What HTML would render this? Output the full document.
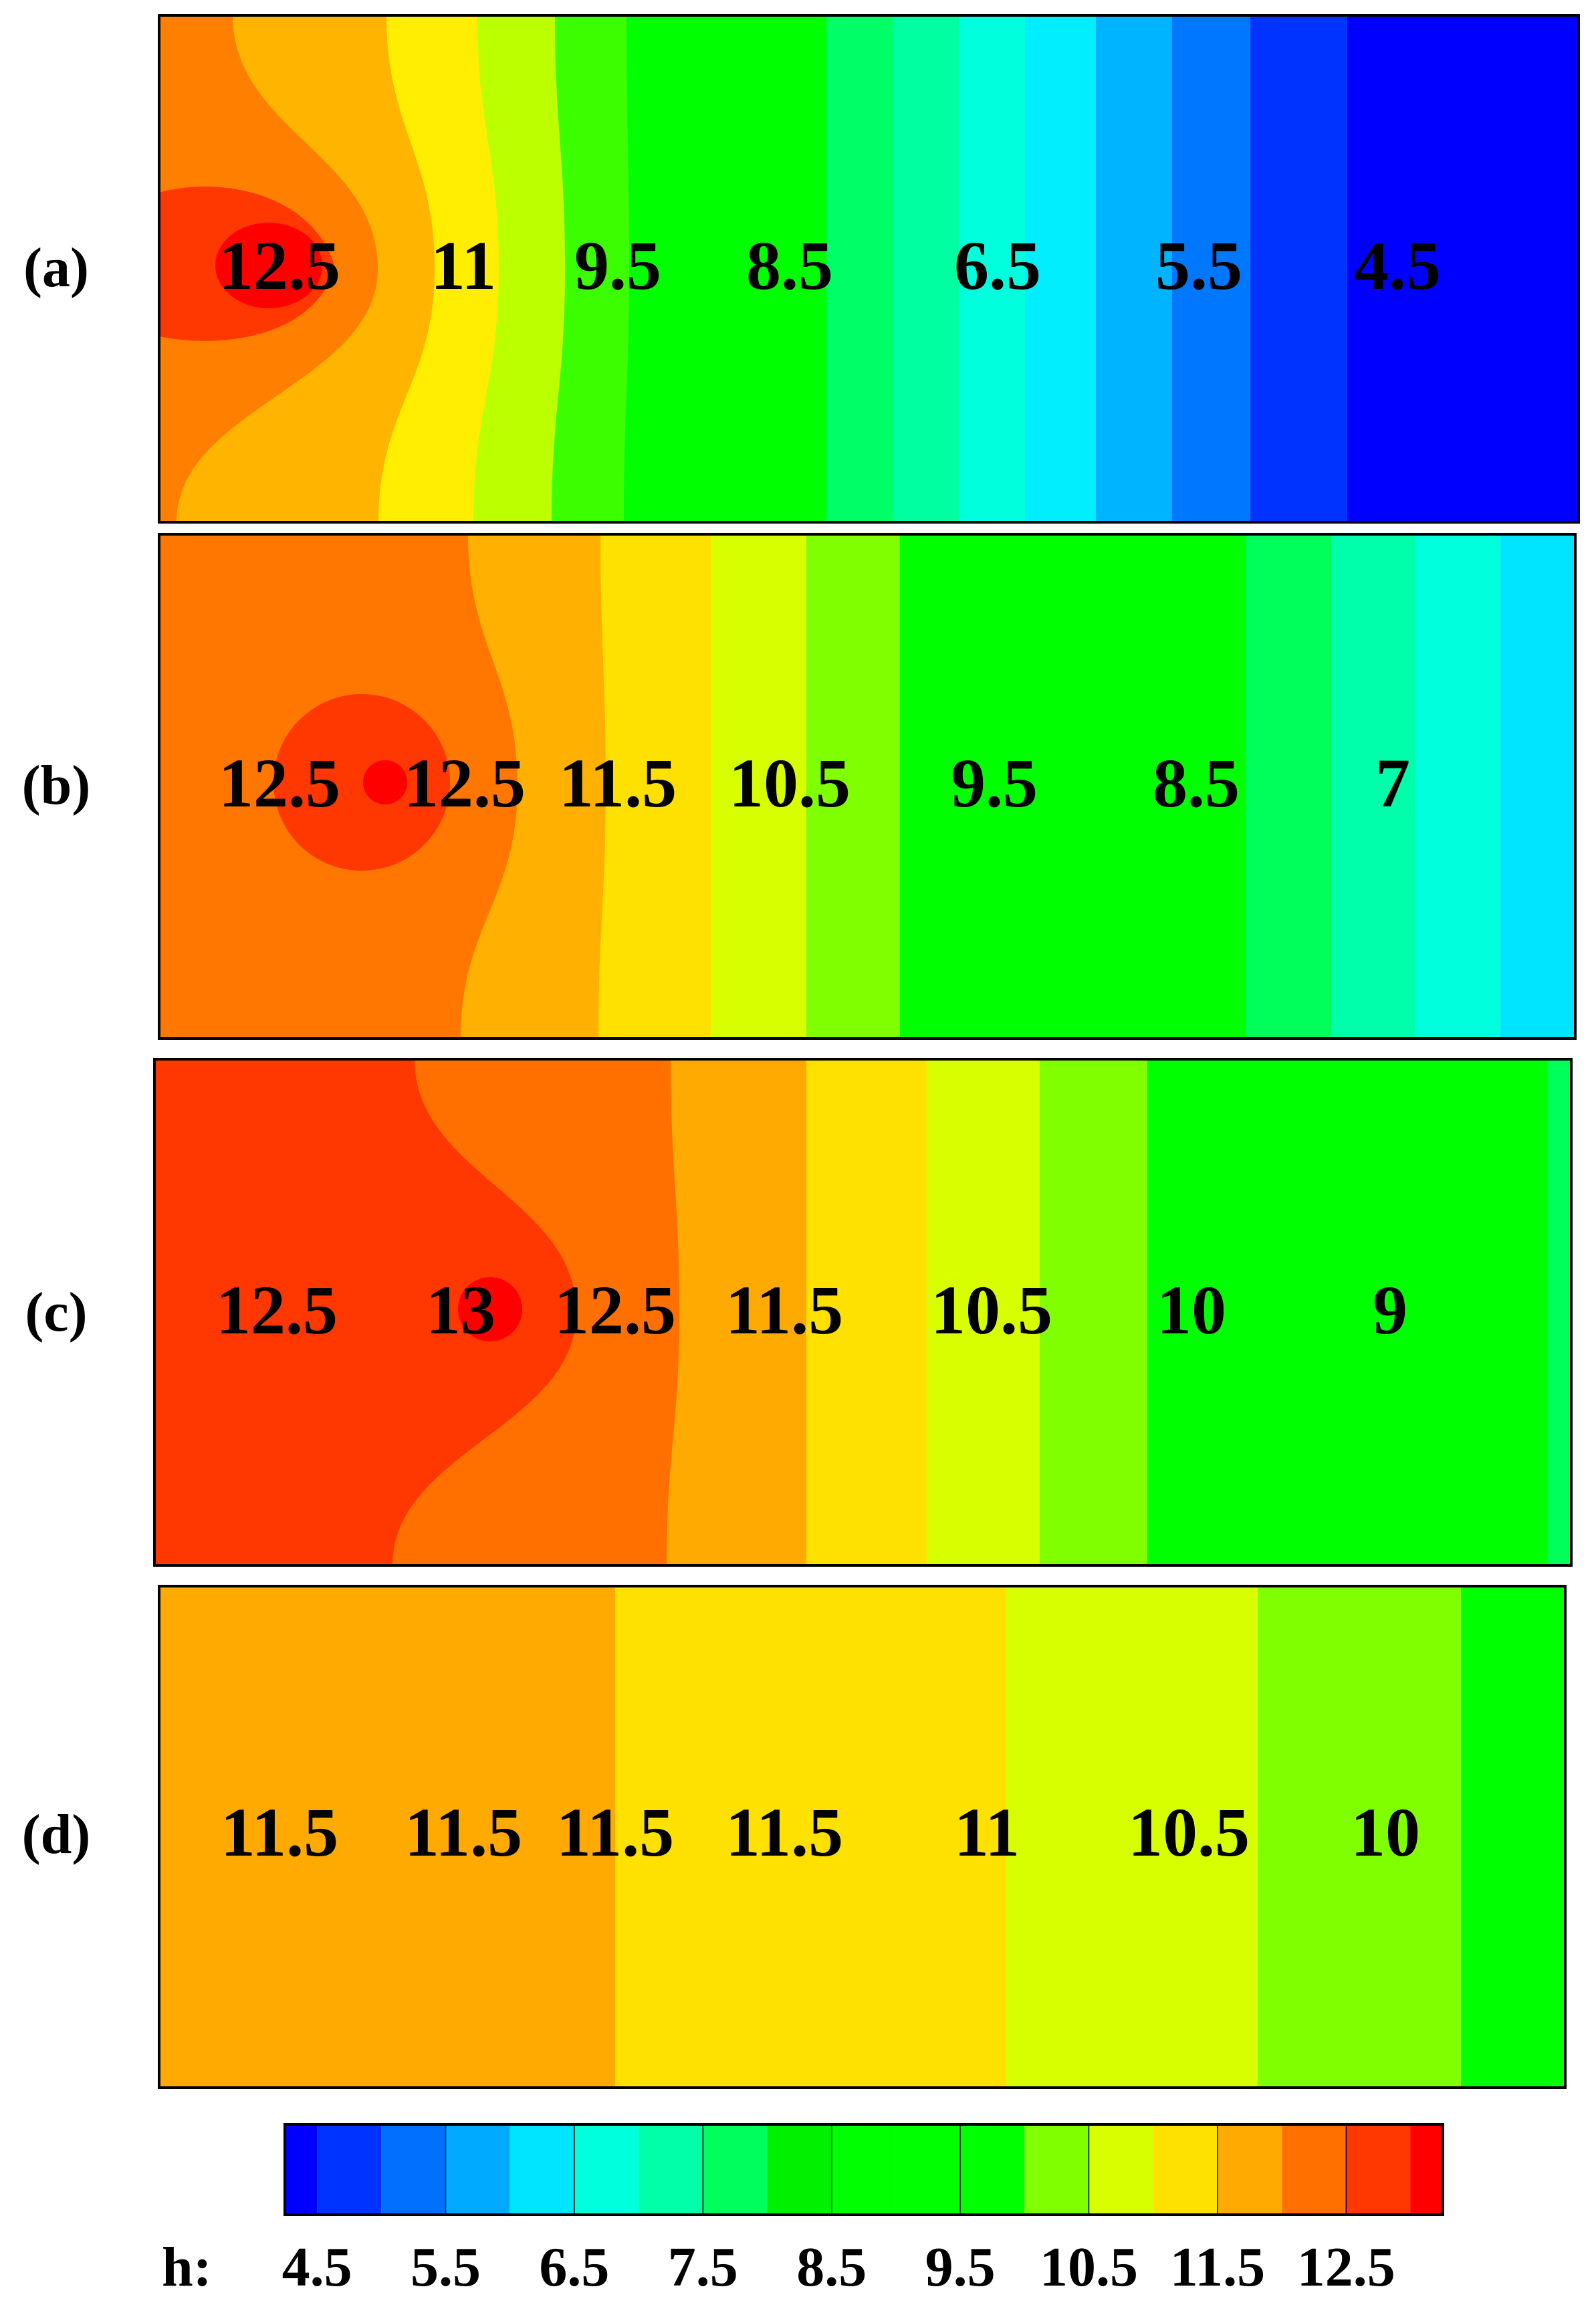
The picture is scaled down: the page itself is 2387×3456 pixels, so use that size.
<!DOCTYPE html>
<html><head><meta charset="utf-8"><style>
html,body{margin:0;padding:0;background:#fff;}
svg{display:block;}
text{font-family:"Liberation Serif",serif;font-weight:bold;fill:#000;}
</style></head>
<body>
<svg id="fig" width="2387" height="3456" viewBox="0 0 2387 3456" xmlns="http://www.w3.org/2000/svg">
<g id="panels"></g>
<g id="cbar"></g>
</svg>
<script>
// colour bands per panel (left to right)
const colorsA = ["#ff7f00","#ffb400","#ffee00","#bbff00","#3bff00","#00ff00","#00ff66","#00ffa0","#00ffdd","#00eeff","#00b4ff","#0077ff","#0033ff","#0000ff"];
const colorsB = ["#ff7700","#ffb000","#ffe100","#d8ff00","#7fff00","#00ff00","#00ff5a","#00ffaa","#00ffdd","#00e5ff"];
const colorsC = ["#ff3700","#ff7000","#ffaa00","#ffe100","#d8ff00","#7fff00","#00ff00","#00ff5a"];
const colorsD = ["#ffaa00","#ffe100","#d8ff00","#7fff00","#00ff00"];
// band boundaries: [top x, middle x, bottom x]
const edgesA = [[348,565,264],[578,650,566],[714,746,708],[830,845,825],[937,941,933],[1236,1236,1236],[1335,1335,1335],[1434,1434,1434],[1533,1533,1533],[1639,1639,1639],[1753,1753,1753],[1870,1870,1870],[2015,2015,2015]];
const edgesB = [[700,774,689],[898,906,895],[1063,1063,1063],[1206,1206,1206],[1346,1346,1346],[1863,1863,1863],[1991,1991,1991],[2116,2116,2116],[2244,2244,2244]];
const edgesC = [[620,862,587],[1003,1016,997],[1206,1206,1206],[1386,1386,1386],[1555,1555,1555],[1716,1716,1716],[2314,2314,2314]];
const edgesD = [[920,920,920],[1505,1505,1505],[1881,1881,1881],[2185,2185,2185]];
// contour labels
const labelsA = ["12.5","11","9.5","8.5","6.5","5.5","4.5"];
const labelsB = ["12.5","12.5","11.5","10.5","9.5","8.5","7"];
const labelsC = ["12.5","13","12.5","11.5","10.5","10","9"];
const labelsD = ["11.5","11.5","11.5","11.5","11","10.5","10"];
const labelXA = [418,693,924,1181,1492,1793,2090];
const labelXB = [418,695,924,1181,1487,1789,2083];
const labelXC = [414,689,920,1173,1483,1782,2079];
const labelXD = [418,693,920,1173,1476,1778,2072];
// colorbar
const cbarColors = ["#0000ff","#0033ff","#0070ff","#00aaff","#00e5ff","#00ffdd","#00ffa8","#00ff5c","#00f000","#00ff00","#00ff00","#00ff00","#7fff00","#d8ff00","#ffe100","#ffaa00","#ff7000","#ff3700","#ff0000"];
const cbarTicks = [4.5,5.5,6.5,7.5,8.5,9.5,10.5,11.5,12.5];

const NS="http://www.w3.org/2000/svg";
function mk(tag,attrs,parent){const e=document.createElementNS(NS,tag);for(const k in attrs)e.setAttribute(k,attrs[k]);parent.appendChild(e);return e;}
const panelsG=document.getElementById('panels');

const panels=[
 {id:"a",x0:238,x1:2361,y0:23,y1:781,colors:colorsA,edges:edgesA,labels:labelsA,lx:labelXA,ly:396,tag:"(a)"},
 {id:"b",x0:238,x1:2356,y0:799,y1:1553,colors:colorsB,edges:edgesB,labels:labelsB,lx:labelXB,ly:1170,tag:"(b)"},
 {id:"c",x0:231,x1:2350,y0:1584,y1:2341,colors:colorsC,edges:edgesC,labels:labelsC,lx:labelXC,ly:1958,tag:"(c)"},
 {id:"d",x0:238,x1:2341,y0:2372,y1:3122,colors:colorsD,edges:edgesD,labels:labelsD,lx:labelXD,ly:2739,tag:"(d)"}
];

function boundaryPath(p,e){
  const yt=p.y0,yb=p.y1,ym=(p.y0+p.y1)/2;
  const h1=ym-yt,h2=yb-ym;
  return `M${p.x0},${yt} L${e[0]},${yt} C${e[0]},${yt+0.45*h1} ${e[1]},${ym-0.45*h1} ${e[1]},${ym} C${e[1]},${ym+0.45*h2} ${e[2]},${yb-0.45*h2} ${e[2]},${yb} L${p.x0},${yb} Z`;
}

panels.forEach(p=>{
  const g=mk('g',{},panelsG);
  
  
  const last=mk('rect',{x:p.x0,y:p.y0,width:p.x1-p.x0,height:p.y1-p.y0,fill:p.colors[p.colors.length-1]},g);
  
  
  for(let i=p.edges.length-1;i>=0;i--){
    const path=mk('path',{d:boundaryPath(p,p.edges[i]),fill:p.colors[i]},g);
    
    
  }
  if(p.id==="a"){
    const r=mk('path',{d:"M238,288 C330,262 470,290 501,400 C470,505 330,522 238,503 Z",fill:"#ff3700"},g);
    
    
    const c=mk('ellipse',{cx:402,cy:397,rx:80,ry:64,fill:"#ff0000"},g);
    
    
  }
  if(p.id==="b"){
    const r=mk('circle',{cx:541,cy:1170,r:132,fill:"#ff3700"},g);
    
    
    const c=mk('circle',{cx:576,cy:1170,r:33,fill:"#ff0000"},g);
    
    
  }
  if(p.id==="c"){
    const c=mk('circle',{cx:733,cy:1958,r:48,fill:"#ff0000"},g);
    
    
  }
  const fr=mk('rect',{x:p.x0,y:p.y0,width:p.x1-p.x0,height:p.y1-p.y0,fill:"none",stroke:"#000","stroke-width":4},g);
  
  
  p.labels.forEach((t,i)=>{
    const tx=mk('text',{x:p.lx[i],y:p.ly+36,'text-anchor':'middle','font-size':104},g);
    tx.textContent=t;
    
    
  });
  const tg=mk('text',{x:84,y:p.ly+32,'text-anchor':'middle','font-size':84},g);
  tg.textContent=p.tag;
  
  
});

// colorbar
const cb=document.getElementById('cbar');
const cx0=426,cx1=2158,cy0=3177,cy1=3312;
const binW=96.2;
function levelX(v){return cx0+binW*0.5+(v-4.5)*2*binW;}
cbarColors.forEach((c,i)=>{
  const xs=i===0?cx0:levelX(4.5+(i-1)*0.5);
  const xe=i===cbarColors.length-1?cx1:levelX(4.5+i*0.5);
  const r=mk('rect',{x:xs,y:cy0,width:xe-xs,height:cy1-cy0,fill:c},cb);
  
  
});
for(let v=5.5;v<=12.5;v+=1){
  const l=mk('line',{x1:levelX(v),x2:levelX(v),y1:cy0,y2:cy1,stroke:"#000","stroke-width":1.5},cb);
  
  
}
const cf=mk('rect',{x:cx0,y:cy0,width:cx1-cx0,height:cy1-cy0,fill:"none",stroke:"#000","stroke-width":4},cb);


cbarTicks.forEach((v,i)=>{
  const t=mk('text',{x:levelX(v),y:3418,'text-anchor':'middle','font-size':84},cb);
  t.textContent=String(v);
  
  
});
const h=mk('text',{x:242,y:3418,'font-size':84},cb);
h.textContent="h:";


</script>
</body></html>
